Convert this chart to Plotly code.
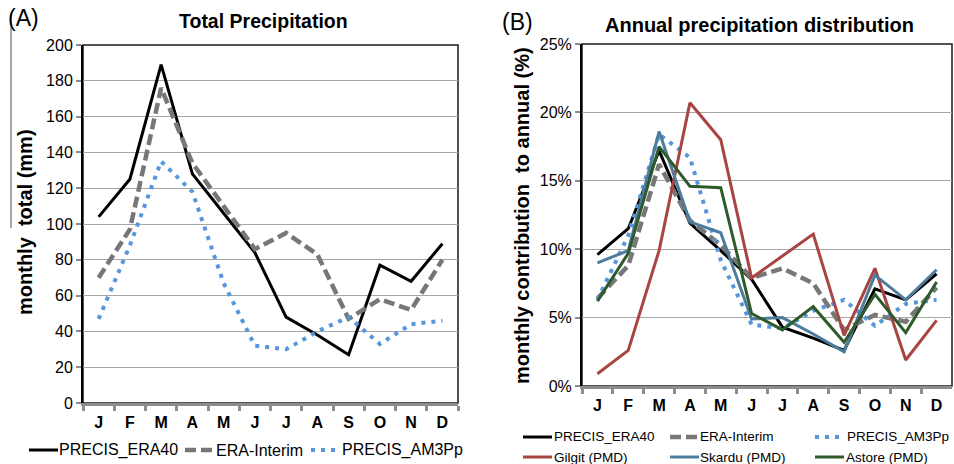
import plotly.graph_objects as go

months = ["J", "F", "M", "A", "M ", "J ", "J  ", "A ", "S", "O", "N", "D"]
month_labels = ["J", "F", "M", "A", "M", "J", "J", "A", "S", "O", "N", "D"]

# Panel A: monthly total (mm)
a_era40 = [104, 125, 189, 128, 106, 84, 48, 38, 27, 77, 68, 89]
a_erai = [70, 97, 176, 134, 110, 86, 95, 83, 47, 58, 52, 80]
a_am3pp = [47, 88, 135, 118, 67, 32, 30, 40, 48, 33, 44, 46]

# Panel B: monthly contribution to annual (%)
b_era40 = [9.6, 11.5, 17.2, 11.9, 9.9, 7.8, 4.3, 3.5, 2.6, 7.1, 6.3, 8.2]
b_erai = [6.4, 8.8, 16.2, 12.1, 10.3, 7.9, 8.6, 7.5, 4.1, 5.2, 4.7, 7.2]
b_am3pp = [6.3, 11.0, 18.4, 16.7, 9.2, 4.5, 4.2, 5.5, 6.3, 4.4, 6.0, 6.3]
b_gilgit = [0.9, 2.6, 9.9, 20.7, 18.0, 7.9, 9.5, 11.1, 3.7, 8.6, 1.9, 4.8]
b_skardu = [9.0, 9.9, 18.6, 12.0, 11.2, 4.9, 5.0, 3.8, 2.5, 8.1, 6.3, 8.5]
b_astore = [6.2, 9.7, 17.5, 14.6, 14.5, 5.3, 4.1, 5.8, 3.2, 6.7, 3.9, 7.6]

FONT = "Liberation Sans, Arial, sans-serif"
C_BLACK = "#000000"
C_GREY = "#777777"
C_BLUE = "#5596dc"
C_RED = "#a84442"
C_SKARDU = "#4d7c9c"
C_GREEN = "#2f5a2c"

styles = {
    "PRECIS_ERA40": dict(color=C_BLACK, width=3),
    "ERA-Interim": dict(color=C_GREY, width=4.5, dash="11px,5px"),
    "PRECIS_AM3Pp": dict(color=C_BLUE, width=4, dash="4px,6px"),
    "Gilgit (PMD)": dict(color=C_RED, width=3),
    "Skardu (PMD)": dict(color=C_SKARDU, width=3),
    "Astore (PMD)": dict(color=C_GREEN, width=3),
}

# pixel -> paper helpers (plot area spans x 83..952, y 44..403)
L, R, T, B = 83, 2, 44, 61
PW, PH = 954 - L - R, 464 - T - B
def px(x):
    return (x - L) / PW
def py(y):
    return (464 - B - y) / PH

fig = go.Figure()

for name, vals in [("PRECIS_ERA40", a_era40), ("ERA-Interim", a_erai), ("PRECIS_AM3Pp", a_am3pp)]:
    fig.add_trace(go.Scatter(x=months, y=vals, mode="lines", name=name, line=styles[name],
                             xaxis="x", yaxis="y", showlegend=False))

b_series = [("PRECIS_ERA40", b_era40), ("ERA-Interim", b_erai), ("PRECIS_AM3Pp", b_am3pp),
            ("Gilgit (PMD)", b_gilgit), ("Skardu (PMD)", b_skardu), ("Astore (PMD)", b_astore)]
for name, vals in b_series:
    fig.add_trace(go.Scatter(x=months, y=[v / 100 for v in vals], mode="lines", name=name,
                             line=styles[name], xaxis="x2", yaxis="y2", showlegend=False))

xcommon = dict(type="category", categoryorder="array", categoryarray=months,
               range=[-0.5, 11.5],
               tickvals=months, ticktext=["<b>%s</b>" % m for m in month_labels],
               tickson="boundaries", ticklabelstandoff=3,
               ticks="outside", ticklen=5, tickwidth=3, tickcolor="#8c8c8c",
               showline=True, linecolor="#8c8c8c", linewidth=3, showgrid=False,
               tickfont=dict(family=FONT, size=16, color="#000"), zeroline=False,
               fixedrange=True)

fig.update_layout(
    width=954, height=464,
    margin=dict(l=L, r=R, t=T, b=B, autoexpand=False),
    paper_bgcolor="white", plot_bgcolor="white",
    font=dict(family=FONT, color="#000"),
    showlegend=False,
    xaxis=dict(domain=[0, px(458)], anchor="y", **xcommon),
    xaxis2=dict(domain=[px(582), 1.0], anchor="y2", **xcommon),
    yaxis=dict(domain=[0, py(45)], anchor="x", range=[0, 200], dtick=20,
               showgrid=True, gridcolor="#a6a6a6", gridwidth=1,
               showline=True, linecolor="#000", linewidth=2,
               ticks="outside", ticklen=5, tickcolor="#8c8c8c", tickwidth=1.5,
               tickfont=dict(family=FONT, size=16, color="#000"), zeroline=False),
    yaxis2=dict(domain=[py(386), 1.0], anchor="x2", range=[0, 0.25], dtick=0.05,
                tickformat=".0%",
                showgrid=True, gridcolor="#a6a6a6", gridwidth=1,
                showline=True, linecolor="#000", linewidth=2,
                ticks="outside", ticklen=5, tickcolor="#8c8c8c", tickwidth=1.5,
                tickfont=dict(family=FONT, size=16, color="#000"), zeroline=False),
)

# Plot frames
for xr, yr in [("x domain", "y domain"), ("x2 domain", "y2 domain")]:
    fig.add_shape(type="rect", xref=xr, yref=yr, x0=0, x1=1, y0=0, y1=1,
                  line=dict(color="#1a1a1a", width=1.5), layer="below")

# Titles and axis titles
fig.add_annotation(text="<b>Total Precipitation</b>", xref="paper", yref="paper",
                   x=px(263), y=py(21), showarrow=False,
                   font=dict(family=FONT, size=19.5), xanchor="center", yanchor="middle")
fig.add_annotation(text="<b>Annual precipitation distribution</b>", xref="paper", yref="paper",
                   x=px(759), y=py(25), showarrow=False,
                   font=dict(family=FONT, size=20), xanchor="center", yanchor="middle")
fig.add_annotation(text="<b>monthly  total (mm)</b>", xref="paper", yref="paper",
                   x=px(25), y=py(222), showarrow=False, textangle=-90,
                   font=dict(family=FONT, size=20), xanchor="center", yanchor="middle")
fig.add_annotation(text="<b>monthly contribution  to annual (%)</b>", xref="paper", yref="paper",
                   x=px(522), y=py(216), showarrow=False, textangle=-90,
                   font=dict(family=FONT, size=20), xanchor="center", yanchor="middle")
fig.add_annotation(text="(A)", xref="paper", yref="paper", x=px(6), y=py(18),
                   showarrow=False, font=dict(family=FONT, size=23), xanchor="left", yanchor="middle")
fig.add_annotation(text="(B)", xref="paper", yref="paper", x=px(500), y=py(22),
                   showarrow=False, font=dict(family=FONT, size=23), xanchor="left", yanchor="middle")

# stray vertical rule at the left edge of the original figure
fig.add_shape(type="line", xref="paper", yref="paper", x0=px(11), x1=px(11),
              y0=py(13), y1=py(228), line=dict(color="#8a8a8a", width=1.5))

# Legends (sample line + label)
def legend_entry(name, x_sample, x_text, y, size):
    fig.add_shape(type="line", xref="paper", yref="paper", x0=px(x_sample), x1=px(x_sample + 29),
                  y0=py(y), y1=py(y), line=styles[name])
    fig.add_annotation(text=name, xref="paper", yref="paper", x=px(x_text), y=py(y),
                       showarrow=False, font=dict(family=FONT, size=size),
                       xanchor="left", yanchor="middle", borderpad=0)

legend_entry("PRECIS_ERA40", 29, 58, 450, 16)
legend_entry("ERA-Interim", 185, 215, 450, 16)
legend_entry("PRECIS_AM3Pp", 311, 341, 450, 16)

legend_entry("PRECIS_ERA40", 523, 553, 437, 13.5)
legend_entry("ERA-Interim", 670, 699, 437, 13.5)
legend_entry("PRECIS_AM3Pp", 815, 846, 437, 13.5)
legend_entry("Gilgit (PMD)", 523, 553, 457, 13.5)
legend_entry("Skardu (PMD)", 670, 699, 457, 13.5)
legend_entry("Astore (PMD)", 815, 845, 457, 13.5)

fig.write_html("out.html")
